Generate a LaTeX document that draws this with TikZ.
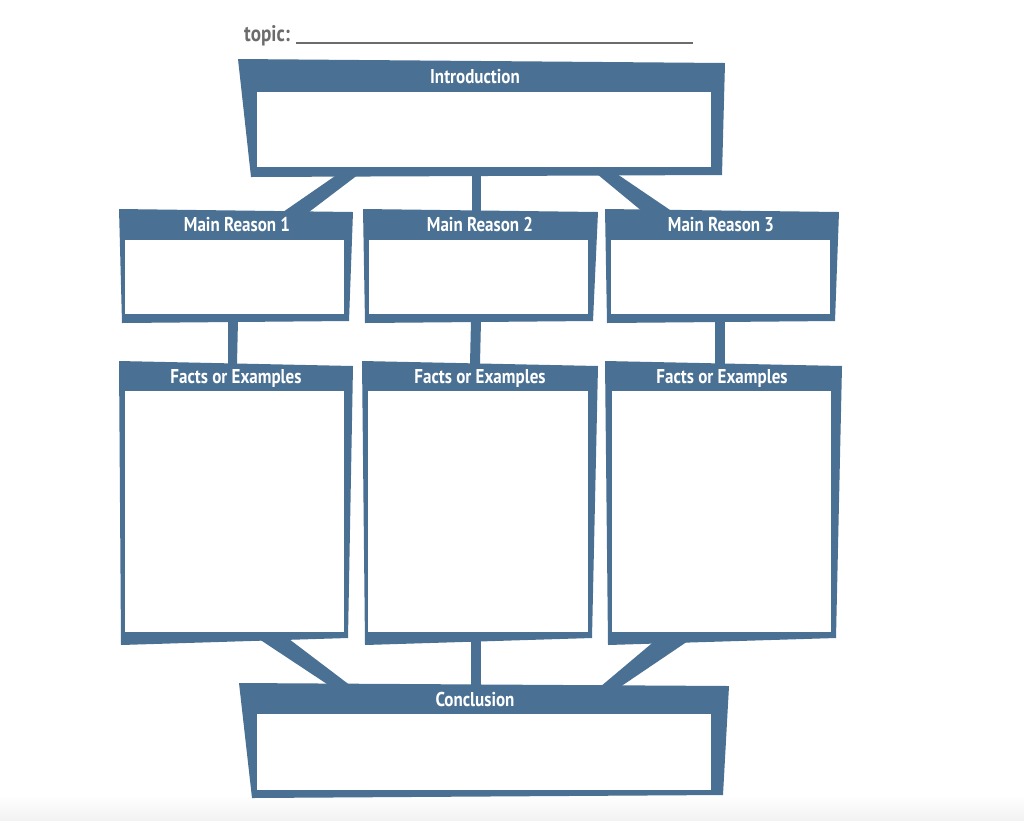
\documentclass[tikz,border=0pt]{standalone}
\usepackage{fontspec}
\newfontfamily\hfont[FakeStretch=0.85]{PT Sans}
\definecolor{boxblue}{RGB}{74,113,148}
\definecolor{topicgray}{RGB}{108,108,108}
\tikzset{
  panel/.style={fill=boxblue},
  innerwhite/.style={fill=white},
  link/.style={fill=boxblue},
  boxtitle/.style={text=white, font=\hfont\bfseries\fontsize{20}{24}\selectfont, inner sep=0pt, anchor=base}
}
\begin{document}
\begin{tikzpicture}[x=1pt,y=-1pt]
\useasboundingbox (0,0) rectangle (1024,820);
\fill[white] (0,0) rectangle (1024,820);
\shade[top color=white,bottom color=black!5] (0,795) rectangle (1024,820);

% topic line
\node[text=topicgray, font=\hfont\bfseries\fontsize{22.5}{26}\selectfont, anchor=base west, inner sep=0pt] (topic) at (244,41) {topic:};
\coordinate (tl) at (296,43);
\coordinate (tr) at (693,43);
\draw[topicgray, line width=1.3pt] (tl) -- (tr);

% connectors
\fill[link] (338,174) -- (359,174) -- (309,212) -- (283,212) -- cycle;
\fill[link] (472,174) -- (481,174) -- (481,212) -- (472,212) -- cycle;
\fill[link] (597,174) -- (617,174) -- (673,212) -- (643,212) -- cycle;
\fill[link] (228,320) -- (238,320) -- (237,364) -- (228,364) -- cycle;
\fill[link] (471,320) -- (481,320) -- (480,364) -- (470,364) -- cycle;
\fill[link] (715,320) -- (725,320) -- (725,364) -- (715,364) -- cycle;
\fill[link] (259,639) -- (289,639) -- (351,686) -- (330,686) -- cycle;
\fill[link] (471,637) -- (481,637) -- (481,687) -- (471,687) -- cycle;
\fill[link] (657,639) -- (691,639) -- (620,687) -- (600,687) -- cycle;

% Introduction
\fill[panel] (238,59) -- (725,63) -- (722,175) -- (251,177) -- cycle;
\fill[innerwhite] (257,92) rectangle (711,167);
\node[boxtitle] (intro) at (475,83) {Introduction};

% Main reasons
\fill[panel] (119,209) -- (353,212) -- (349,321) -- (122,323) -- cycle;
\fill[innerwhite] (125,240) rectangle (344,314);
\node[boxtitle] (mr1) at (237,231.5) {Main Reason 1};

\fill[panel] (363,209) -- (598,212) -- (593,321) -- (365,323) -- cycle;
\fill[innerwhite] (369,240) rectangle (588,314);
\node[boxtitle] (mr2) at (480,231.5) {Main Reason 2};

\fill[panel] (605,209) -- (839,212) -- (835,321) -- (607,323) -- cycle;
\fill[innerwhite] (611,240) rectangle (830,314);
\node[boxtitle] (mr3) at (721,231.5) {Main Reason 3};

% Facts
\fill[panel] (119,361) -- (353,366) -- (348,638) -- (121,645) -- cycle;
\fill[innerwhite] (125,391) rectangle (344,632);
\node[boxtitle] (f1) at (236,383) {Facts or Examples};

\fill[panel] (362,361) -- (598,366) -- (592,638) -- (365,645) -- cycle;
\fill[innerwhite] (368,391) rectangle (588,632);
\node[boxtitle] (f2) at (480,383) {Facts or Examples};

\fill[panel] (605,361) -- (842,366) -- (836,638) -- (608,645) -- cycle;
\fill[innerwhite] (612,391) rectangle (831,632);
\node[boxtitle] (f3) at (722,383) {Facts or Examples};

% Conclusion
\fill[panel] (239,683) -- (729,686) -- (723,795) -- (252,798) -- cycle;
\fill[innerwhite] (257,714) rectangle (711,790);
\node[boxtitle] (conc) at (475,706) {Conclusion};
\end{tikzpicture}
\end{document}
